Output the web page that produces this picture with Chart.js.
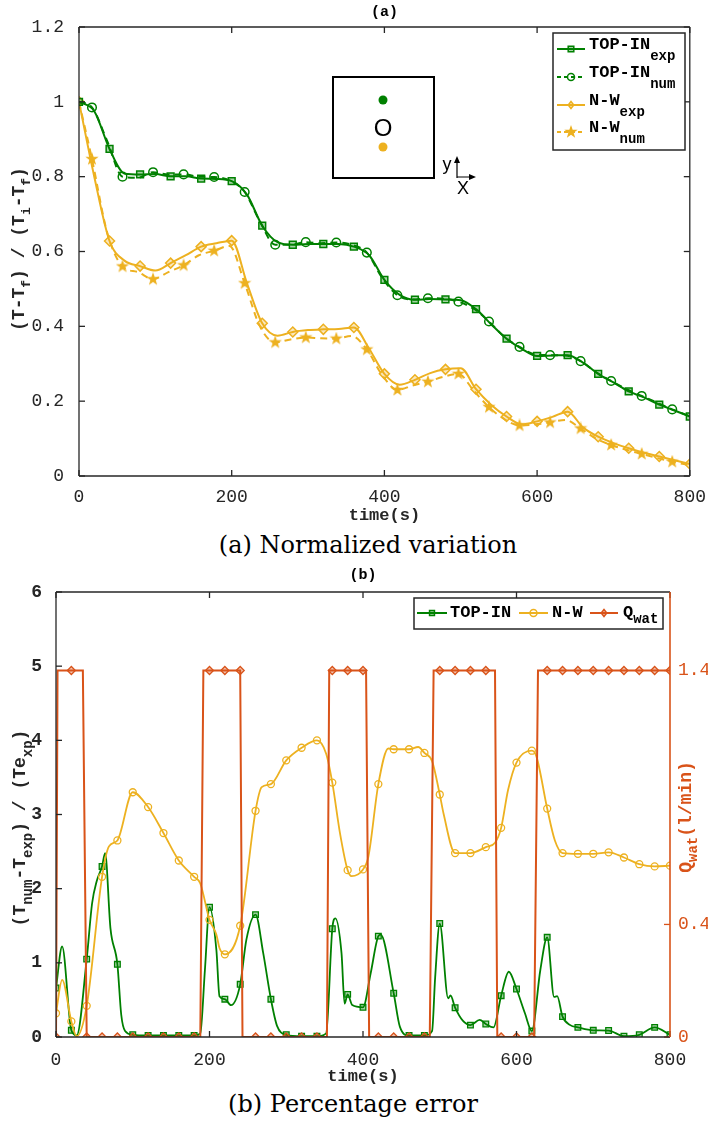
<!DOCTYPE html>
<html>
<head>
<meta charset="utf-8">
<script src="https://cdn.jsdelivr.net/npm/chart.js@4.4.0/dist/chart.umd.min.js"></script>
<style>
  body { margin: 0; background: #fff; width: 708px; height: 1124px; position: relative; overflow: hidden; }
  canvas { position: absolute; left: 0; }
  #chartA { top: 0; }
  #chartB { top: 560px; }
  .cap { position: absolute; left: 0; text-align: center; font-family: "DejaVu Serif", serif; font-size: 24px; color: #000; }
</style>
</head>
<body>
<canvas id="chartA" width="708" height="530"></canvas>
<div class="cap" style="width:736px; top:531px;">(a) Normalized variation</div>
<canvas id="chartB" width="708" height="530"></canvas>
<div class="cap" style="width:706px; top:1090px;">(b) Percentage error</div>

<script>
// ---- data, chart (a) ----
const timeExp = [0, 20, 40, 60, 80, 100, 120, 140, 160, 180, 200, 220, 240, 260, 280, 300, 320, 340, 360, 380, 400,
  420, 440, 460, 480, 500, 520, 540, 560, 580, 600, 620, 640, 660, 680, 700, 720, 740, 760, 780, 800];
const timeNum = [0, 17, 37, 57, 77, 97, 117, 137, 157, 177, 197, 217, 237, 257, 277, 297, 317, 337, 357, 377, 397,
  417, 437, 457, 477, 497, 517, 537, 557, 577, 597, 617, 637, 657, 677, 697, 717, 737, 757, 777, 797];

const topInExp = [1.0, 0.975, 0.874, 0.808, 0.806, 0.807, 0.801, 0.801, 0.795, 0.794, 0.788, 0.752, 0.669, 0.625, 0.618,
  0.620, 0.620, 0.620, 0.613, 0.590, 0.524, 0.484, 0.471, 0.473, 0.472, 0.470, 0.446, 0.405, 0.367, 0.340, 0.321,
  0.322, 0.323, 0.303, 0.273, 0.250, 0.226, 0.210, 0.191, 0.175, 0.159];
const topInNum = [1.0, 0.985, 0.895, 0.800, 0.797, 0.812, 0.806, 0.806, 0.800, 0.799, 0.790, 0.759, 0.680, 0.618, 0.618,
  0.625, 0.622, 0.624, 0.618, 0.597, 0.530, 0.483, 0.472, 0.475, 0.474, 0.466, 0.447, 0.413, 0.372, 0.345, 0.325,
  0.323, 0.322, 0.307, 0.278, 0.254, 0.232, 0.214, 0.196, 0.178, 0.162];
const nwExp = [1.0, 0.80, 0.628, 0.575, 0.561, 0.549, 0.569, 0.590, 0.613, 0.622, 0.629, 0.515, 0.408, 0.375, 0.385,
  0.390, 0.392, 0.393, 0.397, 0.340, 0.273, 0.244, 0.257, 0.275, 0.285, 0.288, 0.232, 0.190, 0.159, 0.138, 0.146,
  0.158, 0.172, 0.130, 0.105, 0.088, 0.074, 0.062, 0.052, 0.042, 0.032];
const nwNum = [1.0, 0.847, 0.650, 0.560, 0.545, 0.526, 0.545, 0.563, 0.590, 0.602, 0.615, 0.515, 0.400, 0.357, 0.365,
  0.370, 0.368, 0.367, 0.374, 0.338, 0.270, 0.230, 0.242, 0.252, 0.265, 0.273, 0.228, 0.184, 0.152, 0.135, 0.138,
  0.143, 0.150, 0.127, 0.100, 0.083, 0.070, 0.059, 0.048, 0.038, 0.030];

// ---- data, chart (b) ----
const topInTime = [0, 8, 20, 27, 40, 47, 53, 60, 64, 71, 80, 85, 90, 100, 120, 140, 160, 180, 188, 194, 200, 209, 213,
  220, 228, 240, 248, 260, 270, 280, 288, 300, 320, 340, 352, 360, 364, 372, 376, 380, 386, 400, 410, 420, 423, 440,
  448, 460, 480, 490, 494, 500, 511, 514, 520, 530, 540, 552, 560, 570, 580, 590, 600, 611, 620, 631, 640, 649, 653,
  660, 670, 680, 700, 720, 740, 760, 780, 800];
const topInErr = [0.66, 1.22, 0.09, 0.02, 1.05, 1.8, 2.1, 2.3, 2.48, 1.46, 0.98, 0.3, 0.08, 0.03, 0.02, 0.02, 0.02, 0.02,
  0.05, 0.9, 1.75, 1.17, 0.55, 0.51, 0.43, 0.71, 1.31, 1.65, 1.13, 0.51, 0.15, 0.03, 0.01, 0.01, 0.05, 1.46, 1.6, 1.13,
  0.45, 0.575, 0.43, 0.40, 0.86, 1.36, 1.38, 0.59, 0.14, 0.02, 0.02, 0.08, 0.8, 1.53, 0.52, 0.56, 0.395, 0.22, 0.16,
  0.23, 0.175, 0.13, 0.557, 0.88, 0.647, 0.32, 0.08, 0.9, 1.344, 0.54, 0.55, 0.275, 0.16, 0.13, 0.09, 0.087, 0.01,
  0.03, 0.13, 0.03];

const nwTime = [0, 8, 20, 27, 40, 60, 69, 80, 100, 120, 140, 160, 180, 188, 200, 209, 213, 220, 240, 260, 268, 280, 300,
  320, 340, 352, 360, 370, 380, 385, 400, 407, 420, 433, 440, 460, 472, 480, 490, 500, 505, 520, 540, 560, 572, 580,
  589, 600, 620, 626, 640, 650, 660, 680, 700, 720, 740, 760, 780, 800];
const nwErr = [0.32, 0.77, 0.21, 0.01, 0.42, 2.16, 2.57, 2.65, 3.30, 3.10, 2.75, 2.38, 2.16, 2.07, 1.58, 1.38, 1.2, 1.115,
  1.50, 3.05, 3.37, 3.41, 3.73, 3.90, 4.0, 3.82, 3.43, 2.75, 2.25, 2.17, 2.26, 2.43, 3.41, 3.89, 3.88, 3.88, 3.91, 3.83,
  3.72, 3.27, 3.01, 2.48, 2.48, 2.56, 2.62, 2.82, 3.33, 3.70, 3.86, 3.78, 3.08, 2.65, 2.48, 2.47, 2.47, 2.49, 2.42,
  2.33, 2.30, 2.31];

const qTime = [0, 2, 20, 35, 40, 60, 80, 100, 120, 140, 160, 180, 188, 192, 200, 220, 240, 243, 260, 280, 300, 320, 340,
  353, 356, 360, 380, 400, 404, 408, 420, 440, 460, 480, 487, 492, 500, 520, 540, 560, 572, 575, 580, 600, 620, 623,
  628, 640, 660, 680, 700, 720, 740, 760, 780, 800];
const qFlow = [0, 1.4, 1.4, 1.4, 0, 0, 0, 0, 0, 0, 0, 0, 0, 1.4, 1.4, 1.4, 1.4, 0, 0, 0, 0, 0, 0, 0, 1.4, 1.4, 1.4, 1.4,
  1.4, 0, 0, 0, 0, 0, 0, 1.4, 1.4, 1.4, 1.4, 1.4, 1.4, 0, 0, 0, 0, 0, 1.4, 1.4, 1.4, 1.4, 1.4, 1.4, 1.4, 1.4, 1.4, 1.4];
const qTicks = [0, 0.43, 1.4];

const namesA = [["TOP-IN", "exp"], ["TOP-IN", "num"], ["N-W", "exp"], ["N-W", "num"]];
const namesB = [["TOP-IN", ""], ["N-W", ""], ["Q", "wat"]];

// ---- styling ----
const FONT = '"Liberation Mono", "DejaVu Sans Mono", monospace';
const GREEN = "#008000";
const YELLOW = "#EDB120";
const ORANGE = "#D95319";
const INK = "#262626";

Chart.defaults.font.family = FONT;
Chart.defaults.color = INK;

function pts(xs, ys) {
  return xs.map((x, i) => ({ x: x, y: ys[i] }));
}

// marker only on every `step` seconds (starting at `offset`)
function every(step, offset, r) {
  return (c) => (c.raw && (c.raw.x - offset) % step === 0 ? r : 0);
}

function makeStar(size, color) {
  const c = document.createElement("canvas");
  c.width = c.height = size;
  const g = c.getContext("2d");
  g.fillStyle = color;
  g.beginPath();
  for (let i = 0; i < 10; i++) {
    const r = i % 2 ? size * 0.2 : size * 0.5;
    const a = -Math.PI / 2 + (i * Math.PI) / 5;
    g.lineTo(size / 2 + r * Math.cos(a), size / 2 + r * Math.sin(a));
  }
  g.closePath();
  g.fill();
  return c;
}
const starImg = makeStar(14, YELLOW);

function rich(ctx, parts, x, y, size, subSize, shift, weight, align) {
  let total = 0;
  parts.forEach(([s, sub]) => {
    ctx.font = `${weight} ${sub ? subSize : size}px ${FONT}`;
    total += ctx.measureText(s).width;
  });
  let cx = align === "center" ? x - total / 2 : x;
  ctx.textAlign = "left";
  ctx.textBaseline = "middle";
  parts.forEach(([s, sub]) => {
    ctx.font = `${weight} ${sub ? subSize : size}px ${FONT}`;
    ctx.fillText(s, cx, y + (sub ? shift : 0));
    cx += ctx.measureText(s).width;
  });
}

function marker(ctx, kind, x, y, r, color, fill) {
  ctx.save();
  ctx.strokeStyle = color;
  ctx.fillStyle = fill;
  ctx.lineWidth = 1.5;
  ctx.setLineDash([]);
  ctx.beginPath();
  if (kind === "rect") ctx.rect(x - r * 0.7, y - r * 0.7, r * 1.4, r * 1.4);
  if (kind === "circle") ctx.arc(x, y, r, 0, Math.PI * 2);
  if (kind === "diamond") {
    ctx.moveTo(x, y - r); ctx.lineTo(x + r * 0.8, y); ctx.lineTo(x, y + r); ctx.lineTo(x - r * 0.8, y); ctx.closePath();
  }
  if (kind === "star") {
    ctx.drawImage(starImg, x - 7, y - 7);
  } else {
    ctx.fill();
    ctx.stroke();
  }
  ctx.restore();
}

function sample(ctx, x1, x2, y, color, dash) {
  ctx.save();
  ctx.strokeStyle = color;
  ctx.lineWidth = 2;
  ctx.setLineDash(dash);
  ctx.beginPath();
  ctx.moveTo(x1, y);
  ctx.lineTo(x2, y);
  ctx.stroke();
  ctx.restore();
}

// box with inward ticks, MATLAB style
const framePlugin = {
  id: "frame",
  afterDraw(chart) {
    const { ctx, chartArea: a, scales } = chart;
    const T = 6;
    ctx.save();
    ctx.lineWidth = 1.3;
    const seg = (x1, y1, x2, y2, c) => {
      ctx.strokeStyle = c;
      ctx.beginPath();
      ctx.moveTo(x1, y1);
      ctx.lineTo(x2, y2);
      ctx.stroke();
    };
    scales.x.ticks.forEach((t, i) => {
      const p = scales.x.getPixelForTick(i);
      seg(p, a.bottom, p, a.bottom - T, INK);
      seg(p, a.top, p, a.top + T, INK);
    });
    scales.y.ticks.forEach((t, i) => {
      const p = scales.y.getPixelForTick(i);
      seg(a.left, p, a.left + T, p, INK);
      if (!scales.y2) seg(a.right, p, a.right - T, p, INK);
    });
    if (scales.y2) {
      scales.y2.ticks.forEach((t, i) => {
        const p = scales.y2.getPixelForTick(i);
        seg(a.right, p, a.right - T, p, ORANGE);
      });
    }
    seg(a.left, a.top, a.right, a.top, INK);
    seg(a.left, a.top, a.left, a.bottom, INK);
    seg(a.left, a.bottom, a.right, a.bottom, INK);
    ctx.lineWidth = scales.y2 ? 1.6 : 1.3;
    seg(a.right, a.top, a.right, a.bottom, scales.y2 ? ORANGE : INK);
    ctx.restore();
  }
};

const annotA = {
  id: "annotA",
  afterDraw(chart) {
    const { ctx, chartArea: a } = chart;
    const mid = (a.left + a.right) / 2;
    ctx.save();
    ctx.fillStyle = "#000";
    ctx.textAlign = "center";
    ctx.textBaseline = "middle";
    ctx.font = `bold 15px ${FONT}`;
    ctx.fillText("(a)", mid, 12);
    ctx.font = `bold 17px ${FONT}`;
    ctx.fillStyle = INK;
    ctx.fillText("time(s)", mid, 516);

    ctx.save();
    ctx.translate(19, 249);
    ctx.rotate(-Math.PI / 2);
    rich(ctx, [["(T-T", 0], ["f", 1], [") / (T", 0], ["i", 1], ["-T", 0], ["f", 1], [")", 0]], 0, 0, 18, 13, 8, "bold", "center");
    ctx.restore();

    // legend
    ctx.fillStyle = "#fff";
    ctx.fillRect(553, 33, 132, 117);
    ctx.strokeStyle = INK;
    ctx.lineWidth = 1.5;
    ctx.strokeRect(553, 33, 132, 117);
    const rows = [
      { y: 49, c: GREEN, dash: [], m: "rect", f: "rgba(0,128,0,0.35)" },
      { y: 77, c: GREEN, dash: [4, 3], m: "circle", f: "rgba(255,255,255,0)" },
      { y: 105, c: YELLOW, dash: [], m: "diamond", f: "rgba(237,177,32,0.3)" },
      { y: 132, c: YELLOW, dash: [4, 3], m: "star", f: YELLOW }
    ];
    rows.forEach((r, i) => {
      sample(ctx, 557, 585, r.y, r.c, r.dash);
      marker(ctx, r.m, 571, r.y, r.m === "rect" ? 4 : 3.5, r.c, r.f);
      ctx.fillStyle = "#000";
      rich(ctx, [[namesA[i][0], 0], [namesA[i][1], 1]], 589, r.y - 4, 17, 14, 11, "bold", "left");
    });

    // inset: probe layout sketch
    ctx.strokeStyle = "#000";
    ctx.lineWidth = 2;
    ctx.strokeRect(333, 77, 101, 101);
    ctx.fillStyle = GREEN;
    ctx.beginPath(); ctx.arc(383, 100, 4.5, 0, Math.PI * 2); ctx.fill();
    ctx.fillStyle = YELLOW;
    ctx.beginPath(); ctx.arc(383, 147, 4.5, 0, Math.PI * 2); ctx.fill();
    ctx.fillStyle = "#000";
    ctx.textAlign = "center";
    ctx.textBaseline = "middle";
    ctx.font = '24px "Liberation Sans", sans-serif';
    ctx.fillText("O", 383, 129);
    ctx.font = '18px "Liberation Sans", sans-serif';
    ctx.fillText("y", 447, 165);
    ctx.fillText("X", 463, 189);
    ctx.lineWidth = 1.2;
    ctx.beginPath();
    ctx.moveTo(457, 178); ctx.lineTo(457, 160);
    ctx.moveTo(457, 177); ctx.lineTo(473, 177);
    ctx.stroke();
    ctx.beginPath();
    ctx.moveTo(457, 156); ctx.lineTo(454, 163); ctx.lineTo(460, 163); ctx.closePath();
    ctx.moveTo(476, 177); ctx.lineTo(469, 174); ctx.lineTo(469, 180); ctx.closePath();
    ctx.fill();
    ctx.restore();
  }
};

const annotB = {
  id: "annotB",
  afterDraw(chart) {
    const { ctx, chartArea: a } = chart;
    const mid = (a.left + a.right) / 2;
    ctx.save();
    ctx.fillStyle = "#000";
    ctx.textAlign = "center";
    ctx.textBaseline = "middle";
    ctx.font = `bold 15px ${FONT}`;
    ctx.fillText("(b)", mid, 15);
    ctx.font = `bold 17px ${FONT}`;
    ctx.fillStyle = INK;
    ctx.fillText("time(s)", mid, 517);

    ctx.save();
    ctx.translate(20, 268);
    ctx.rotate(-Math.PI / 2);
    rich(ctx, [["(T", 0], ["num", 1], ["-T", 0], ["exp", 1], [") / (Te", 0], ["xp", 1], [")", 0]], 0, 0, 18, 14, 8, "bold", "center");
    ctx.restore();

    ctx.save();
    ctx.fillStyle = ORANGE;
    ctx.translate(686, 257);
    ctx.rotate(-Math.PI / 2);
    rich(ctx, [["Q", 0], ["wat", 1], ["(l/min)", 0]], 0, 0, 18, 14, 7, "bold", "center");
    ctx.restore();

    // legend
    ctx.fillStyle = "#fff";
    ctx.fillRect(414, 38, 249, 31);
    ctx.strokeStyle = INK;
    ctx.lineWidth = 1.5;
    ctx.strokeRect(414, 38, 249, 31);
    const items = [
      { x1: 417, x2: 447, tx: 450, c: GREEN, m: "rect", f: "rgba(0,128,0,0.35)" },
      { x1: 519, x2: 548, tx: 552, c: YELLOW, m: "circle", f: "rgba(255,255,255,0)" },
      { x1: 590, x2: 618, tx: 623, c: ORANGE, m: "diamond", f: "rgba(217,83,25,0.35)" }
    ];
    items.forEach((it, i) => {
      sample(ctx, it.x1, it.x2, 53, it.c, []);
      marker(ctx, it.m, (it.x1 + it.x2) / 2, 53, 3.5, it.c, it.f);
      ctx.fillStyle = "#000";
      rich(ctx, [[namesB[i][0], 0], [namesB[i][1], 1]], it.tx, 53, 17, 14, 6, "bold", "left");
    });
    ctx.restore();
  }
};

const noGrid = { display: false };
const noBorder = { display: false };
const plainNum = (v) => String(Math.round(v * 100) / 100);

new Chart(document.getElementById("chartA"), {
  type: "line",
  data: {
    datasets: [
      {
        data: pts(timeExp, topInExp), borderColor: GREEN, borderWidth: 2, cubicInterpolationMode: "monotone",
        pointStyle: "rect", pointRadius: every(40, 0, 4.8), pointBorderColor: GREEN,
        pointBackgroundColor: "rgba(0,128,0,0.35)", pointBorderWidth: 1.5
      },
      {
        data: pts(timeNum, topInNum), borderColor: GREEN, borderWidth: 2, borderDash: [7, 5], cubicInterpolationMode: "monotone",
        pointStyle: "circle", pointRadius: every(40, 17, 4.3), pointBorderColor: GREEN,
        pointBackgroundColor: "rgba(255,255,255,0)", pointBorderWidth: 1.5
      },
      {
        data: pts(timeExp, nwExp), borderColor: YELLOW, borderWidth: 2, cubicInterpolationMode: "monotone",
        pointStyle: "rectRot", pointRadius: every(40, 0, 5), pointBorderColor: YELLOW,
        pointBackgroundColor: "rgba(237,177,32,0.3)", pointBorderWidth: 1.5
      },
      {
        data: pts(timeNum, nwNum), borderColor: YELLOW, borderWidth: 2, borderDash: [7, 5], cubicInterpolationMode: "monotone",
        pointStyle: starImg, pointRadius: every(40, 17, 6)
      }
    ]
  },
  options: {
    responsive: false,
    animation: false,
    layout: { padding: { top: 27, right: 18, left: 0, bottom: 0 } },
    plugins: { legend: { display: false }, tooltip: { enabled: false } },
    scales: {
      x: {
        type: "linear", min: 0, max: 800,
        ticks: { stepSize: 200, padding: 2, maxRotation: 0, font: { size: 18 } },
        grid: noGrid, border: noBorder,
        afterFit: (s) => { s.height = 54; }
      },
      y: {
        min: 0, max: 1.2,
        ticks: { stepSize: 0.2, padding: 7, font: { size: 18 }, callback: plainNum },
        grid: noGrid, border: noBorder,
        afterFit: (s) => { s.width = 79; }
      }
    }
  },
  plugins: [framePlugin, annotA]
});

new Chart(document.getElementById("chartB"), {
  type: "line",
  data: {
    datasets: [
      {
        data: pts(qTime, qFlow), yAxisID: "y2", order: 0, borderColor: ORANGE, borderWidth: 2,
        pointStyle: "rectRot", pointRadius: every(20, 0, 4), pointBorderColor: ORANGE,
        pointBackgroundColor: "rgba(217,83,25,0.35)", pointBorderWidth: 1.3
      },
      {
        data: pts(topInTime, topInErr), yAxisID: "y", order: 2, borderColor: GREEN, borderWidth: 1.8,
        cubicInterpolationMode: "monotone",
        pointStyle: "rect", pointRadius: every(20, 0, 4), pointBorderColor: GREEN,
        pointBackgroundColor: "rgba(0,128,0,0.35)", pointBorderWidth: 1.3
      },
      {
        data: pts(nwTime, nwErr), yAxisID: "y", order: 1, borderColor: YELLOW, borderWidth: 1.8,
        cubicInterpolationMode: "monotone",
        pointStyle: "circle", pointRadius: every(20, 0, 3.5), pointBorderColor: YELLOW,
        pointBackgroundColor: "rgba(255,255,255,0)", pointBorderWidth: 1.3
      }
    ]
  },
  options: {
    responsive: false,
    animation: false,
    layout: { padding: { top: 32, right: 0, left: 0, bottom: 0 } },
    plugins: { legend: { display: false }, tooltip: { enabled: false } },
    scales: {
      x: {
        type: "linear", min: 0, max: 800,
        ticks: { stepSize: 200, padding: 4, maxRotation: 0, font: { size: 18 } },
        grid: noGrid, border: noBorder,
        afterFit: (s) => { s.height = 53; }
      },
      y: {
        position: "left", min: 0, max: 6,
        ticks: { stepSize: 1, padding: 6, font: { size: 18, weight: "bold" } },
        grid: noGrid, border: noBorder,
        afterFit: (s) => { s.width = 56; }
      },
      y2: {
        position: "right", min: 0, max: 1.7,
        afterBuildTicks: (s) => { s.ticks = qTicks.map((v) => ({ value: v })); },
        ticks: { padding: 0, color: ORANGE, font: { size: 18 }, callback: (v) => String(v) },
        grid: noGrid, border: noBorder,
        afterFit: (s) => { s.width = 38; }
      }
    }
  },
  plugins: [framePlugin, annotB]
});
</script>
</body>
</html>
